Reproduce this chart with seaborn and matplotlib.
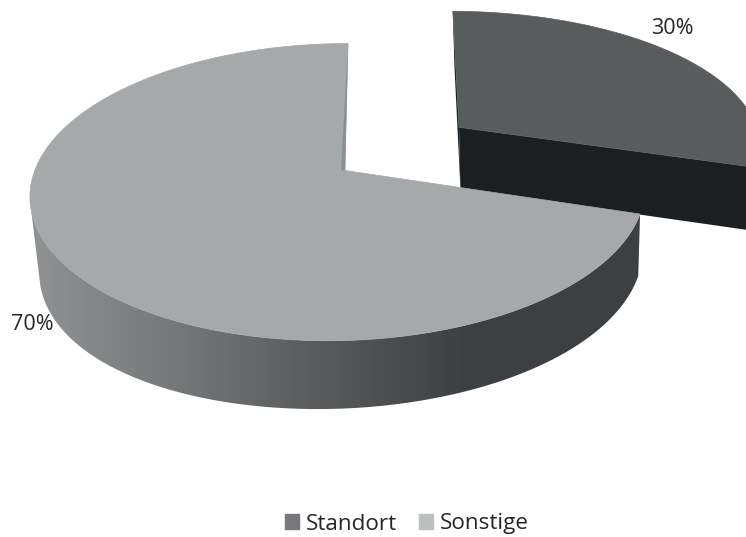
import numpy as np
import matplotlib
matplotlib.use('Agg')
import matplotlib.pyplot as plt
from matplotlib.colors import LinearSegmentedColormap
from matplotlib.patches import Patch, Polygon
import seaborn as sns

# values
labels = ['Standort', 'Sonstige']
shares = [30, 70]
pct_labels = ['30%', '70%']

face_colors = ['#585c5c', '#a5a9a9']
legend_colors = ['#77787b', '#bcbec0']
cut_color = '#1b1f21'
wall_stops = ['#929495', '#76797a', '#585a5b', '#3d4043']

sns.set_theme(style='white')
plt.rcParams['font.family'] = ['Open Sans', 'DejaVu Sans']

# perspective of the disc, in pixels of the picture
cx, cy = 345, 170.5
sx, sy = 304, 145.4
k, m = 0.145, 0.02
skew = 0.029
depth = 58
depth_exploded = 65
start = 91.0
explode = (0.395, 0.313)
stretch = 1.06
skew_exploded = 0.018


def project(u, v, low=False, exploded=False):
    w = 1 + k * v + m * u
    x = sx * u / w
    y = -sy * v / w
    if low:
        x = x * 0.982 + 3.5
        if exploded:
            y = y + depth_exploded / w
        else:
            y = y + depth / (w - 0.115 * u ** 2 + 0.065 * u)
    return cx + x, cy + y


def disc(a, exploded=False):
    t = np.radians(a)
    u = np.cos(t) + skew * np.sin(t)
    v = np.sin(t)
    if exploded:
        u = u * stretch + skew_exploded * v + explode[0]
        v = v + explode[1]
    return u, v


def ring(a0, a1, exploded=False, low=False):
    u, v = disc(np.linspace(a0, a1, 200), exploded)
    return project(u, v, low, exploded)


fig = plt.figure(figsize=(7.46, 5.37), dpi=100)
ax = fig.add_axes([0, 0, 1, 1])
ax.set_xlim(0, 746)
ax.set_ylim(537, 0)
ax.axis('off')

sweep = [s / sum(shares) * 360 for s in shares]
a_small = (start - sweep[0], start)
a_big = (start, start + sweep[1])

# exploded slice: walls first, then top
ux, vx = explode
x0, y0 = project(ux, vx, False, True)
x3, y3 = project(ux, vx, True, True)
for a in a_small:
    u, v = disc(a, True)
    x1, y1 = project(u, v, False, True)
    x2, y2 = project(u, v, True, True)
    ax.fill([x0, x1, x2, x3], [y0, y1, y2, y3], color=cut_color, lw=0)
xs, ys = ring(*a_small, True)
ax.fill(np.r_[x0, xs], np.r_[y0, ys], color=face_colors[0], lw=0.5)

# big slice: rim wall with a horizontal gradient
xt, yt = ring(195, a_big[1])
xb, yb = ring(195, a_big[1], low=True)
wall = Polygon(np.c_[np.r_[xt, xb[::-1]], np.r_[yt, yb[::-1]]], closed=True, fc='none', ec='none')
ax.add_patch(wall)
cmap = LinearSegmentedColormap.from_list('wall', wall_stops)
left, right = xt.min(), xt.max()
split = left + (right - left) * 0.72
img = ax.imshow(np.linspace(0, 1, 256)[None, :], cmap=cmap, aspect='auto',
                extent=(left - 10, split, 537, 0), zorder=2)
rest = ax.fill_between([split, 746], 0, 537, color=wall_stops[-1], lw=0, zorder=2)
img.set_clip_path(wall)
rest.set_clip_path(wall)
ax.set_xlim(0, 746)
ax.set_ylim(537, 0)

# big slice top
xs, ys = ring(*a_big)
ax.fill(np.r_[cx, xs], np.r_[cy, ys], color=face_colors[1], lw=0.5, zorder=3)

# thin sliver of the cut edge
xr, yr = project(*disc(start))
ax.fill([xr, xr, cx - 4, cx], [yr, yr, cy, cy], color='#8b8e90', lw=0, zorder=4)

ax.text(672, 29, pct_labels[0], ha='center', va='center', fontsize=15.5, color='#262626', zorder=5)
ax.text(32, 325, pct_labels[1], ha='center', va='center', fontsize=15.5, color='#262626', zorder=5)

handles = [Patch(color=c, label=l) for c, l in zip(legend_colors, labels)]
fig.legend(handles=handles, loc='center', bbox_to_anchor=(407 / 746, 1 - 524 / 537), ncol=2, frameon=False,
           fontsize=16.2, handlelength=0.6, handleheight=0.6, handletextpad=0.3, columnspacing=1.0,
           labelcolor='#262626')

fig.savefig('out.png', dpi=100)
